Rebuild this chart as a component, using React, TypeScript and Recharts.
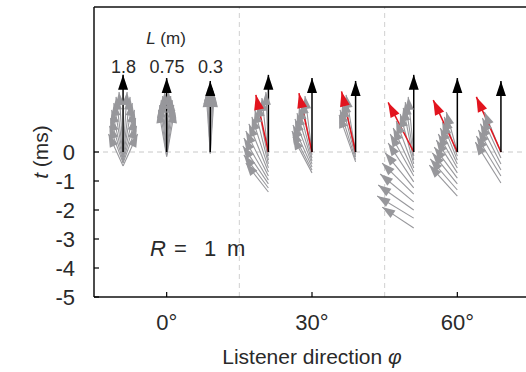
import React from 'react';
import { ComposedChart, Line, XAxis, YAxis, ReferenceLine } from 'recharts';

const directions = [0, 30, 60];
const lengthLabels = ['1.8', '0.75', '0.3'];
// column of each array length L around the listener direction (deg)
const lengthOffsets = [-9, 0, 9];
const xTicks = [0, 30, 60];
const yTicks = [0, -1, -2, -3, -4, -5];

// reference (black) arrow tip time per L (ms)
const refTip = [2.66, 2.55, 2.45];

// gray arrows per column: [base t (ms), tip dx (deg), tip t (ms)]
const gray0a = [
  [-0.03, -0.83, 2.07], [-0.03, 0.83, 2.07], [-0.1, -1.45, 1.9], [-0.1, 1.45, 1.9],
  [-0.17, -1.9, 1.69], [-0.17, 1.9, 1.69], [-0.24, -2.35, 1.45], [-0.24, 2.35, 1.45],
  [-0.31, -2.6, 1.17], [-0.31, 2.6, 1.17], [-0.38, -2.8, 0.9], [-0.38, 2.8, 0.9],
  [-0.48, -3.0, 0.62], [-0.48, 3.0, 0.62],
];
const gray0b = [
  [-0.02, -0.41, 2.07], [-0.02, 0.41, 2.07], [-0.05, -0.83, 1.93], [-0.05, 0.83, 1.93],
  [-0.09, -1.14, 1.79], [-0.09, 1.14, 1.79], [-0.12, -1.45, 1.62], [-0.12, 1.45, 1.62],
  [-0.16, -1.66, 1.45], [-0.16, 1.66, 1.45],
];
const gray0c = [
  [-0.02, -0.41, 2.21], [-0.02, 0.41, 2.21], [-0.03, -0.62, 2.1], [-0.03, 0.62, 2.1],
  [-0.05, -0.83, 2.0], [-0.05, 0.83, 2.0],
];
const gray30a = [
  [0, -0.52, 2.07], [-0.14, -1.34, 1.86], [-0.28, -2.17, 1.66], [-0.41, -2.79, 1.45],
  [-0.55, -3.41, 1.21], [-0.69, -4.03, 0.97], [-0.83, -4.66, 0.72], [-0.97, -5.07, 0.48],
  [-1.1, -5.28, 0.21], [-1.24, -5.07, -0.1], [-1.38, -4.66, -0.38],
];
const gray30b = [
  [0, -1.45, 1.93], [-0.1, -2.07, 1.76], [-0.21, -2.69, 1.55], [-0.31, -3.1, 1.34],
  [-0.41, -3.52, 1.14], [-0.52, -3.93, 0.93], [-0.62, -4.14, 0.72], [-0.72, -3.93, 0.52],
];
const gray30c = [
  [0, -1.97, 1.97], [-0.09, -2.38, 1.79], [-0.17, -2.79, 1.62], [-0.26, -3.21, 1.45],
  [-0.34, -3.41, 1.28],
];
const gray60a = [
  [0, -1.14, 1.9], [-0.14, -1.76, 1.72], [-0.28, -2.17, 1.52], [-0.41, -2.79, 1.31],
  [-0.55, -3.62, 1.07], [-0.69, -4.24, 0.83], [-0.83, -4.86, 0.62], [-1.03, -5.28, 0.31],
  [-1.24, -5.9, -0.03], [-1.45, -6.52, -0.38], [-1.72, -6.93, -0.76], [-2.0, -7.34, -1.14],
  [-2.28, -7.55, -1.52], [-2.62, -6.52, -1.9],
];
const gray60b = [
  [0, -2.28, 1.38], [-0.14, -2.69, 1.21], [-0.28, -3.1, 1.03], [-0.41, -3.52, 0.83],
  [-0.55, -3.93, 0.62], [-0.72, -4.34, 0.41], [-0.9, -4.76, 0.17], [-1.1, -5.17, -0.03],
  [-1.31, -5.59, -0.24], [-1.52, -5.79, -0.45],
];
const gray60c = [
  [0, -3.41, 1.38], [-0.21, -3.83, 1.17], [-0.41, -4.24, 0.97], [-0.62, -4.66, 0.76],
  [-0.83, -5.07, 0.55], [-1.07, -5.28, 0.34],
];
const grayArrows = [gray0a, gray0b, gray0c, gray30a, gray30b, gray30c, gray60a, gray60b, gray60c];

// red arrows (only for 30° and 60°): [tip dx (deg), tip t (ms)]
const redArrows = [
  null, null, null,
  [-2.59, 1.97], [-2.69, 2.03], [-2.9, 2.09],
  [-5.28, 1.71], [-4.97, 1.79], [-5.07, 1.9],
];

const FONT = '"Liberation Sans", Arial, Helvetica, sans-serif';
const GRAY = '#97979b';
const RED = '#e2141e';
const INK = '#2a2a2a';

const head = (len: number, half: number, color: string) => (props: any) => {
  const { index, points } = props;
  if (index !== 1 || !points || points.length < 2) return null;
  const a = points[0];
  const b = points[1];
  const dx = b.x - a.x;
  const dy = b.y - a.y;
  const d = Math.hypot(dx, dy) || 1;
  const ux = dx / d;
  const uy = dy / d;
  const bx = b.x - ux * len;
  const by = b.y - uy * len;
  const pts = `${b.x},${b.y} ${bx - uy * half},${by + ux * half} ${bx + uy * half},${by - ux * half}`;
  return <polygon key={`h-${a.x}-${a.y}-${b.x}`} points={pts} fill={color} />;
};

const grayHead = head(13, 4.5, GRAY);
const redHead = head(15, 5, RED);
const blackHead = head(15, 5, '#000');

type Seg = { id: string; pts: { x: number; t: number }[] };

const graySegs: Seg[] = [];
const redSegs: Seg[] = [];
const blackSegs: Seg[] = [];
directions.forEach((phi, i) => {
  lengthOffsets.forEach((off, j) => {
    const k = i * 3 + j;
    const bx = phi + off;
    grayArrows[k].forEach((g, n) => {
      graySegs.push({ id: `g${k}-${n}`, pts: [{ x: bx, t: g[0] }, { x: bx + g[1], t: g[2] }] });
    });
    const r = redArrows[k];
    if (r) redSegs.push({ id: `r${k}`, pts: [{ x: bx, t: 0 }, { x: bx + r[0], t: r[1] }] });
    blackSegs.push({ id: `b${k}`, pts: [{ x: bx, t: 0 }, { x: bx, t: refTip[j] }] });
  });
});

const BottomTick = (p: any) => (
  <g>
    <line x1={p.x} x2={p.x} y1={p.y} y2={p.y - 5} stroke="#000" strokeWidth={1.2} />
    <text x={p.x} y={p.y + 33} textAnchor="middle" fontSize={22} fontFamily={FONT} fill={INK}>
      {`${p.payload.value}°`}
    </text>
  </g>
);
const TopTick = (p: any) => (
  <line x1={p.x} x2={p.x} y1={p.y} y2={p.y + 5} stroke="#000" strokeWidth={1.2} />
);
const LeftTick = (p: any) => (
  <g>
    <line x1={p.x} x2={p.x + 5} y1={p.y} y2={p.y} stroke="#000" strokeWidth={1.2} />
    <text x={p.x - 19} y={p.y + 8} textAnchor="end" fontSize={22} fontFamily={FONT} fill={INK}>
      {p.payload.value}
    </text>
  </g>
);
const RightTick = (p: any) => (
  <line x1={p.x} x2={p.x - 5} y1={p.y} y2={p.y} stroke="#000" strokeWidth={1.2} />
);

const renderSeg = (s: Seg, color: string, w: number, dot: any) => (
  <Line
    key={s.id}
    data={s.pts}
    dataKey="t"
    type="linear"
    stroke={color}
    strokeWidth={w}
    dot={dot}
    activeDot={false}
    legendType="none"
    isAnimationActive={false}
  />
);

export default function App() {
  return (
    <div style={{ position: 'absolute', left: 0, top: 0, width: 526, height: 372, overflow: 'hidden', background: '#fff' }}>
      <ComposedChart width={540} height={372} margin={{ top: 6, right: 9, bottom: 45, left: 34 }}>
        <XAxis
          dataKey="x"
          type="number"
          domain={[-15, 75]}
          ticks={xTicks}
          tickSize={0}
          tickMargin={0}
          tick={<BottomTick />}
          axisLine={{ stroke: '#111', strokeWidth: 1.5 }}
          height={30}
        />
        <XAxis
          xAxisId="top"
          orientation="top"
          dataKey="x"
          type="number"
          domain={[-15, 75]}
          ticks={xTicks}
          tickSize={0}
          tickMargin={0}
          tick={<TopTick />}
          axisLine={{ stroke: '#111', strokeWidth: 1.5 }}
          height={1}
        />
        <YAxis
          type="number"
          domain={[-5, 5]}
          ticks={yTicks}
          tickSize={0}
          tickMargin={0}
          tick={<LeftTick />}
          axisLine={{ stroke: '#111', strokeWidth: 1.5 }}
          width={60}
        />
        <YAxis
          yAxisId="right"
          orientation="right"
          type="number"
          domain={[-5, 5]}
          ticks={yTicks}
          tickSize={0}
          tickMargin={0}
          tick={<RightTick />}
          axisLine={{ stroke: '#111', strokeWidth: 1.5 }}
          width={1}
        />
        <ReferenceLine y={0} stroke="#c8c8c8" strokeDasharray="5 4" />
        <ReferenceLine x={15} stroke="#d0d0d0" strokeDasharray="5 4" />
        <ReferenceLine x={45} stroke="#d0d0d0" strokeDasharray="5 4" />
        {graySegs.map((s) => renderSeg(s, GRAY, 1.1, grayHead))}
        {redSegs.map((s) => renderSeg(s, RED, 1.5, redHead))}
        {blackSegs.map((s) => renderSeg(s, '#000', 1.5, blackHead))}
      </ComposedChart>
      <svg width={526} height={372} style={{ position: 'absolute', left: 0, top: 0, pointerEvents: 'none' }} fontFamily={FONT}>
        <text x={40} y={152} transform="rotate(-90 40 152)" textAnchor="middle" dominantBaseline="central" fontSize={21} fill={INK}>
          <tspan fontStyle="italic">t</tspan> (ms)
        </text>
        <text x={312} y={364} textAnchor="middle" fontSize={21} fill={INK}>
          Listener direction <tspan fontStyle="italic">φ</tspan>
        </text>
        <text x={166} y={44} textAnchor="middle" fontSize={17} fill={INK}>
          <tspan fontStyle="italic">L</tspan> (m)
        </text>
        {lengthLabels.map((l, j) => (
          <text key={l} x={167 + lengthOffsets[j] * 4.84} y={73} textAnchor="middle" fontSize={18} fill={INK}>
            {l}
          </text>
        ))}
        <g fontSize={22} fill={INK}>
          <text x={150} y={256} fontStyle="italic">R</text>
          <text x={174} y={256}>=</text>
          <text x={204} y={256}>1</text>
          <text x={227} y={256}>m</text>
        </g>
      </svg>
    </div>
  );
}
